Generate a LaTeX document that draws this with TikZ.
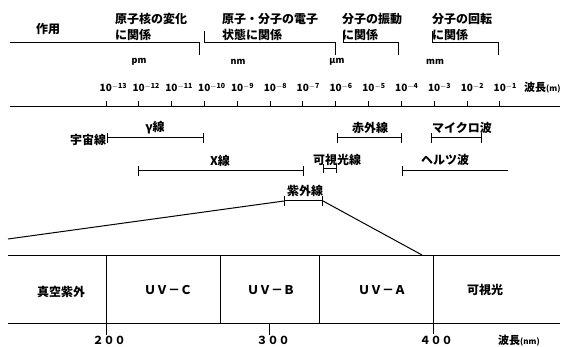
\documentclass[tikz,border=0pt]{standalone}
\usepackage{fontspec}
\setmainfont{Noto Sans CJK JP}
\usetikzlibrary{arrows.meta}
\begin{document}
\begin{tikzpicture}[x=1pt,y=-1pt,
  jl/.style={font=\fontsize{12}{16}\selectfont\bfseries, inner sep=0pt, align=left},
  unitlbl/.style={font=\fontsize{9}{10}\selectfont\bfseries, inner sep=0pt},
  ticklbl/.style={font=\fontsize{10}{11}\selectfont\bfseries, inner sep=0pt},
  ln/.style={line width=1pt},
  rng/.style={line width=1pt, {Bar[width=10pt,line width=1pt]}-{Bar[width=10pt,line width=1pt]}},
  rngl/.style={line width=1pt, {Bar[width=10pt,line width=1pt]}-},
  boxtxt/.style={font=\fontsize{12}{14}\selectfont\bfseries, inner sep=0pt}]
\useasboundingbox[fill=white] (0,0) rectangle (564,347);

% ---- top: effects ----
\node[jl] (act) at (48,29) {作用};
\node[jl, anchor=west] (nuc) at (115,27) {原子核の変化\\に関係};
\node[jl, anchor=west] (ele) at (222,27) {原子・分子の電子\\状態に関係};
\node[jl, anchor=west] (vib) at (342,27) {分子の振動\\に関係};
\node[jl, anchor=west] (rot) at (432,27) {分子の回転\\に関係};

\coordinate (b1a) at (10,43);  \coordinate (b1b) at (199,43);
\coordinate (b2a) at (204,43); \coordinate (b2b) at (335,43);
\coordinate (b3a) at (343,43); \coordinate (b3b) at (398,43);
\coordinate (b4a) at (432,43); \coordinate (b4b) at (498,43);
\draw[ln] (b1a) -- (b1b) -- ++(0,12);
\draw[ln] ([yshift=12pt]b2a) -- (b2a) -- (b2b) -- ++(0,12);
\draw[ln] ([yshift=12pt]b3a) -- (b3a) -- (b3b) -- ++(0,12);
\draw[ln] ([yshift=12pt]b4a) -- (b4a) -- (b4b) -- ++(0,12);

% units
\node[unitlbl] (pm) at (139,62) {pm};
\node[unitlbl] (nm) at (238,62) {nm};
\node[unitlbl] (um) at (337,62) {μm};
\node[unitlbl] (mm) at (435,62) {mm};

% ---- axis ----
\coordinate (axL) at (10,107);
\coordinate (axR) at (560,107);
\draw[ln] (axL) -- (axR);
\foreach \i in {0,...,12} {
  \pgfmathsetmacro\xx{106+32.83*\i}
  \pgfmathtruncatemacro\e{13-\i}
  \coordinate (tk\i) at (\xx,107);
  \draw[ln] (tk\i) -- ++(0,-6);
  \node[ticklbl, anchor=base west] (tl\i) at (\xx-6.5,92) {10\textsuperscript{$-$\e}};
}
\node[anchor=base west, inner sep=0pt] (wl) at (524,92) {{\fontsize{11}{12}\selectfont\bfseries 波長}{\fontsize{8}{9}\selectfont\bfseries (m)}};

% ---- ranges ----
\node[jl] (cos) at (88,140) {宇宙線};
\coordinate (g1) at (107,138); \coordinate (g2) at (204,138);
\draw[rng] (g1) -- (g2);
\node[jl] (gam) at (155,128) {γ線};

\coordinate (x1) at (138,171); \coordinate (x2) at (304,171);
\draw[rng] (x1) -- (x2);
\node[jl] (xr) at (220,161) {X線};

\coordinate (v1) at (323,169); \coordinate (v2) at (337,169);
\draw[line width=1pt, {Bar[width=9pt,line width=1pt]}-{Bar[width=9pt,line width=1pt]}] (v1) -- (v2);
\node[jl] (vis) at (337,160) {可視光線};

\coordinate (i1) at (337,138); \coordinate (i2) at (402,138);
\draw[rng] (i1) -- (i2);
\node[jl] (ir) at (370,128) {赤外線};

\coordinate (m1) at (431,138); \coordinate (m2) at (482,138);
\draw[rng] (m1) -- (m2);
\node[jl] (mw) at (462,128) {マイクロ波};

\coordinate (h1) at (402,171); \coordinate (h2) at (508,171);
\draw[rngl] (h1) -- (h2);
\node[jl] (hz) at (445,160) {ヘルツ波};

\coordinate (u1) at (284,201); \coordinate (u2) at (323,201);
\draw[rng] (u1) -- (u2);
\node[jl] (uv) at (305,191) {紫外線};

% zoom lines
\coordinate (zL) at (8,239);
\coordinate (zR) at (422,255);
\draw[ln] (u1) -- (zL);
\draw[ln] (u2) -- (zR);

% ---- bottom box ----
\coordinate (tl) at (8,255);  \coordinate (tr) at (560,255);
\coordinate (bl) at (8,323);  \coordinate (br) at (560,323);
\draw[ln] (tl) -- (tr);
\draw[ln] (bl) -- (br);
\draw[ln] (106,255) -- (106,335);
\draw[ln] (220,255) -- (220,323);
\draw[ln] (319,255) -- (319,323);
\draw[ln] (433,255) -- (433,334);
\draw[ln] (269,323) -- (269,335);

\node[boxtxt] (vuv) at (61,292) {真空紫外};
\node[boxtxt] (uvc) at (168,290) {ＵＶ－Ｃ};
\node[boxtxt] (uvb) at (271,290) {ＵＶ－Ｂ};
\node[boxtxt] (uva) at (382,290) {ＵＶ－Ａ};
\node[boxtxt] (vl) at (485,290) {可視光};

\node[boxtxt, font=\fontsize{11}{12}\selectfont\bfseries] (n200) at (109,340) {２００};
\node[boxtxt, font=\fontsize{11}{12}\selectfont\bfseries] (n300) at (273,340) {３００};
\node[boxtxt, font=\fontsize{11}{12}\selectfont\bfseries] (n400) at (436,340) {４００};
\node[anchor=base west, inner sep=0pt] (wn) at (498,344) {{\fontsize{11}{12}\selectfont\bfseries 波長}{\fontsize{8}{9}\selectfont\bfseries (nm)}};
\end{tikzpicture}
\end{document}
